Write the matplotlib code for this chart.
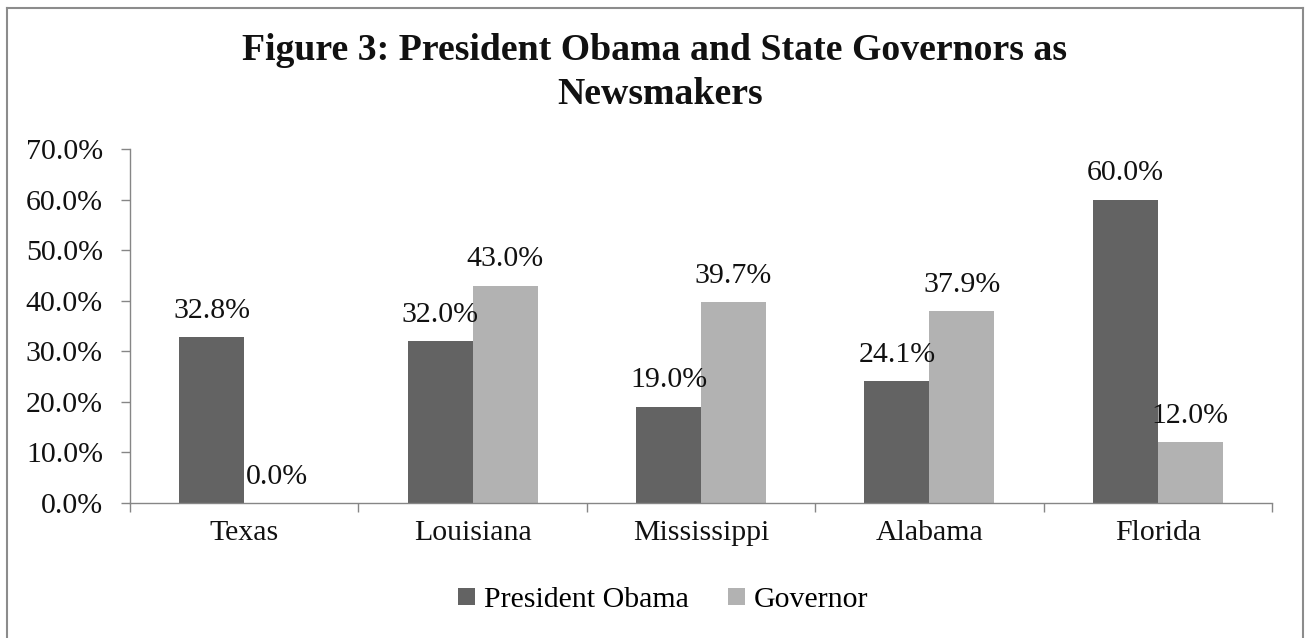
import matplotlib
matplotlib.use("Agg")
import matplotlib.pyplot as plt
from matplotlib.lines import Line2D
import numpy as np

categories = ["Texas", "Louisiana", "Mississippi", "Alabama", "Florida"]
obama = [32.8, 32.0, 19.0, 24.1, 60.0]
governor = [0.0, 43.0, 39.7, 37.9, 12.0]
series_names = ["President Obama", "Governor"]
yticks = [0, 10, 20, 30, 40, 50, 60, 70]
title_lines = ["Figure 3: President Obama and State Governors as", "Newsmakers"]

W, H = 1305, 638
plt.rcParams['font.family'] = ['Liberation Serif', 'DejaVu Serif']
FS = 21.5
DARK = '#636363'
LIGHT = '#b2b2b2'
AXC = '#868686'

fig = plt.figure(figsize=(W / 100, H / 100), dpi=100)
ax = fig.add_axes([130 / W, 1 - 503 / H, (1272 - 130) / W, (503 - 149) / H])

x = np.arange(len(categories))
bw = 0.285
b1 = ax.bar(x - bw / 2, obama, bw, color=DARK, label=series_names[0])
b2 = ax.bar(x + bw / 2, governor, bw, color=LIGHT, label=series_names[1])

for bars, vals in ((b1, obama), (b2, governor)):
    for r, v in zip(bars, vals):
        ax.annotate(f"{v:.1f}%", (r.get_x() + r.get_width() / 2, v),
                    xytext=(0, 14), textcoords='offset points',
                    ha='center', va='baseline', fontsize=FS, color='#111111')

ax.set_xlim(-0.5, len(categories) - 0.5)
ax.set_ylim(0, 70)
ax.set_yticks(yticks)
ax.set_yticklabels([f"{v:.1f}%" for v in yticks])
ax.set_xticks(x)
ax.set_xticklabels(categories)
ax.set_xticks(np.arange(-0.5, len(categories)), minor=True)

ax.tick_params(axis='x', which='major', length=0, pad=12, labelsize=FS, labelcolor='#111111')
ax.tick_params(axis='x', which='minor', length=6.5, width=1.0, color=AXC, direction='out')
ax.tick_params(axis='y', which='major', length=6.5, width=1.0, color=AXC, pad=13,
               labelsize=FS, labelcolor='#111111', direction='out')

for s in ('top', 'right'):
    ax.spines[s].set_visible(False)
for s in ('left', 'bottom'):
    ax.spines[s].set_color(AXC)
    ax.spines[s].set_linewidth(1.0)

fig.text(655 / W, 1 - 60 / H, title_lines[0], ha='center', va='baseline',
         fontsize=27.2, fontweight='bold', color='#111111')
fig.text(660 / W, 1 - 104 / H, title_lines[1], ha='center', va='baseline',
         fontsize=27.2, fontweight='bold', color='#111111')

fig.legend(handles=[b1, b2], labels=series_names, loc='center',
           bbox_to_anchor=(663.5 / W, 1 - 600 / H), ncol=2, frameon=False,
           fontsize=FS, handlelength=0.57, handleheight=0.54, handletextpad=0.3,
           columnspacing=1.3, borderpad=0, borderaxespad=0)

# outer frame (left, top, right; bottom beyond image)
fc = '#8c8c8c'
lw = 1.5
fig.add_artist(Line2D([7 / W, 7 / W], [0, 1 - 7.5 / H], transform=fig.transFigure, color=fc, lw=lw))
fig.add_artist(Line2D([7 / W, 1303 / W], [1 - 7.5 / H, 1 - 7.5 / H], transform=fig.transFigure, color=fc, lw=lw))
fig.add_artist(Line2D([1303 / W, 1303 / W], [0, 1 - 7.5 / H], transform=fig.transFigure, color=fc, lw=lw))

fig.savefig("out.png", dpi=100)
